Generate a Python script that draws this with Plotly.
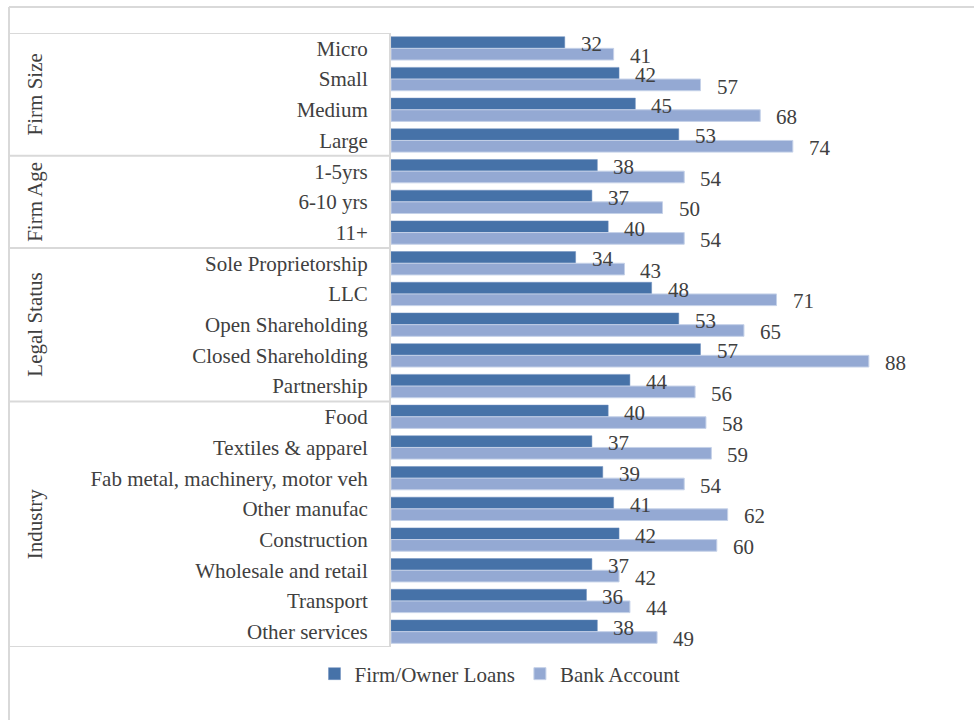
import plotly.graph_objects as go

categories = ["Micro", "Small", "Medium", "Large",
              "1-5yrs", "6-10 yrs", "11+",
              "Sole Proprietorship", "LLC", "Open Shareholding", "Closed Shareholding", "Partnership",
              "Food", "Textiles & apparel", "Fab metal, machinery, motor veh", "Other manufac",
              "Construction", "Wholesale and retail", "Transport", "Other services"]
firm_owner_loans = [32, 42, 45, 53, 38, 37, 40, 34, 48, 53, 57, 44, 40, 37, 39, 41, 42, 37, 36, 38]
bank_account = [41, 57, 68, 74, 54, 50, 54, 43, 71, 65, 88, 56, 58, 59, 54, 62, 60, 42, 44, 49]
groups = ["Firm Size", "Firm Age", "Legal Status", "Industry"]
group_sizes = [4, 3, 5, 8]

W, H = 974, 720
L, R, T, B = 391, 14, 33, 73
pw = W - L - R
ph = H - T - B
FONT = "Liberation Serif, Times New Roman, serif"
TXT = "#404040"
DARK = "#4672A8"
LIGHT = "#94A9D3"
GRID = "#D9D9D9"
FS = 21

def px_to_paper_x(px):
    return (px - L) / pw

def px_to_paper_y(py):
    return 1 - (py - T) / ph

fig = go.Figure()
fig.add_trace(go.Bar(
    y=categories, x=firm_owner_loans, orientation="h", name="Firm/Owner Loans",
    marker=dict(color=DARK, line=dict(color="#6E8FBF", width=0.5))))
fig.add_trace(go.Bar(
    y=categories, x=bank_account, orientation="h", name="Bank Account",
    marker=dict(color=LIGHT, line=dict(color="#C5D1E8", width=1))))

shapes = []
x0p = px_to_paper_x(10)
b = -0.5
bounds = [b]
for s in group_sizes:
    b += s
    bounds.append(b)
for yb in bounds:
    shapes.append(dict(type="line", xref="paper", yref="y", x0=x0p, x1=0, y0=yb, y1=yb,
                       line=dict(color=GRID, width=2), layer="below"))
# outer frame
shapes.append(dict(type="line", xref="paper", yref="paper",
                   x0=px_to_paper_x(9), x1=px_to_paper_x(990),
                   y0=px_to_paper_y(7), y1=px_to_paper_y(7), line=dict(color=GRID, width=2)))
shapes.append(dict(type="line", xref="paper", yref="paper",
                   x0=px_to_paper_x(9), x1=px_to_paper_x(9),
                   y0=px_to_paper_y(7), y1=px_to_paper_y(740), line=dict(color=GRID, width=2)))

annotations = []
start = 0
for g, s in zip(groups, group_sizes):
    mid = start + (s - 1) / 2
    annotations.append(dict(text=g, xref="paper", yref="y", x=px_to_paper_x(35), y=mid,
                            xanchor="center", yanchor="middle",
                            showarrow=False, textangle=-90,
                            font=dict(family=FONT, size=FS, color=TXT)))
    start += s

# data labels
for cat, v in zip(categories, firm_owner_loans):
    annotations.append(dict(text=str(v), x=v, y=cat, xref="x", yref="y",
                            xanchor="left", yanchor="middle", xshift=14, yshift=4,
                            showarrow=False, font=dict(family=FONT, size=FS, color=TXT)))
for cat, v in zip(categories, bank_account):
    annotations.append(dict(text=str(v), x=v, y=cat, xref="x", yref="y",
                            xanchor="left", yanchor="middle", xshift=14, yshift=-7.5,
                            showarrow=False, font=dict(family=FONT, size=FS, color=TXT)))

fig.update_layout(
    width=W, height=H, margin=dict(l=L, r=R, t=T, b=B, autoexpand=False),
    paper_bgcolor="white", plot_bgcolor="white",
    barmode="group", bargap=0.24, bargroupgap=0.0,
    font=dict(family=FONT, size=FS, color=TXT),
    xaxis=dict(range=[0, pw / 5.43], showgrid=False, showticklabels=False,
               zeroline=False, showline=False, fixedrange=True),
    yaxis=dict(range=[len(categories) - 0.5, -0.5], autorange=False,
               showgrid=False, zeroline=False,
               showline=True, linecolor=GRID, linewidth=2,
               ticks="", ticklabelstandoff=17,
               tickfont=dict(family=FONT, size=FS, color=TXT)),
    legend=dict(orientation="h", x=px_to_paper_x(500), xanchor="center", xref="paper",
                y=px_to_paper_y(674), yanchor="middle",
                font=dict(family=FONT, size=FS, color=TXT),
                traceorder="normal", itemwidth=30),
    shapes=shapes, annotations=annotations,
)

fig.write_html("out.html",
               config={"displayModeBar": False},
               post_script="document.body.style.margin='0';document.body.style.padding='0';")
